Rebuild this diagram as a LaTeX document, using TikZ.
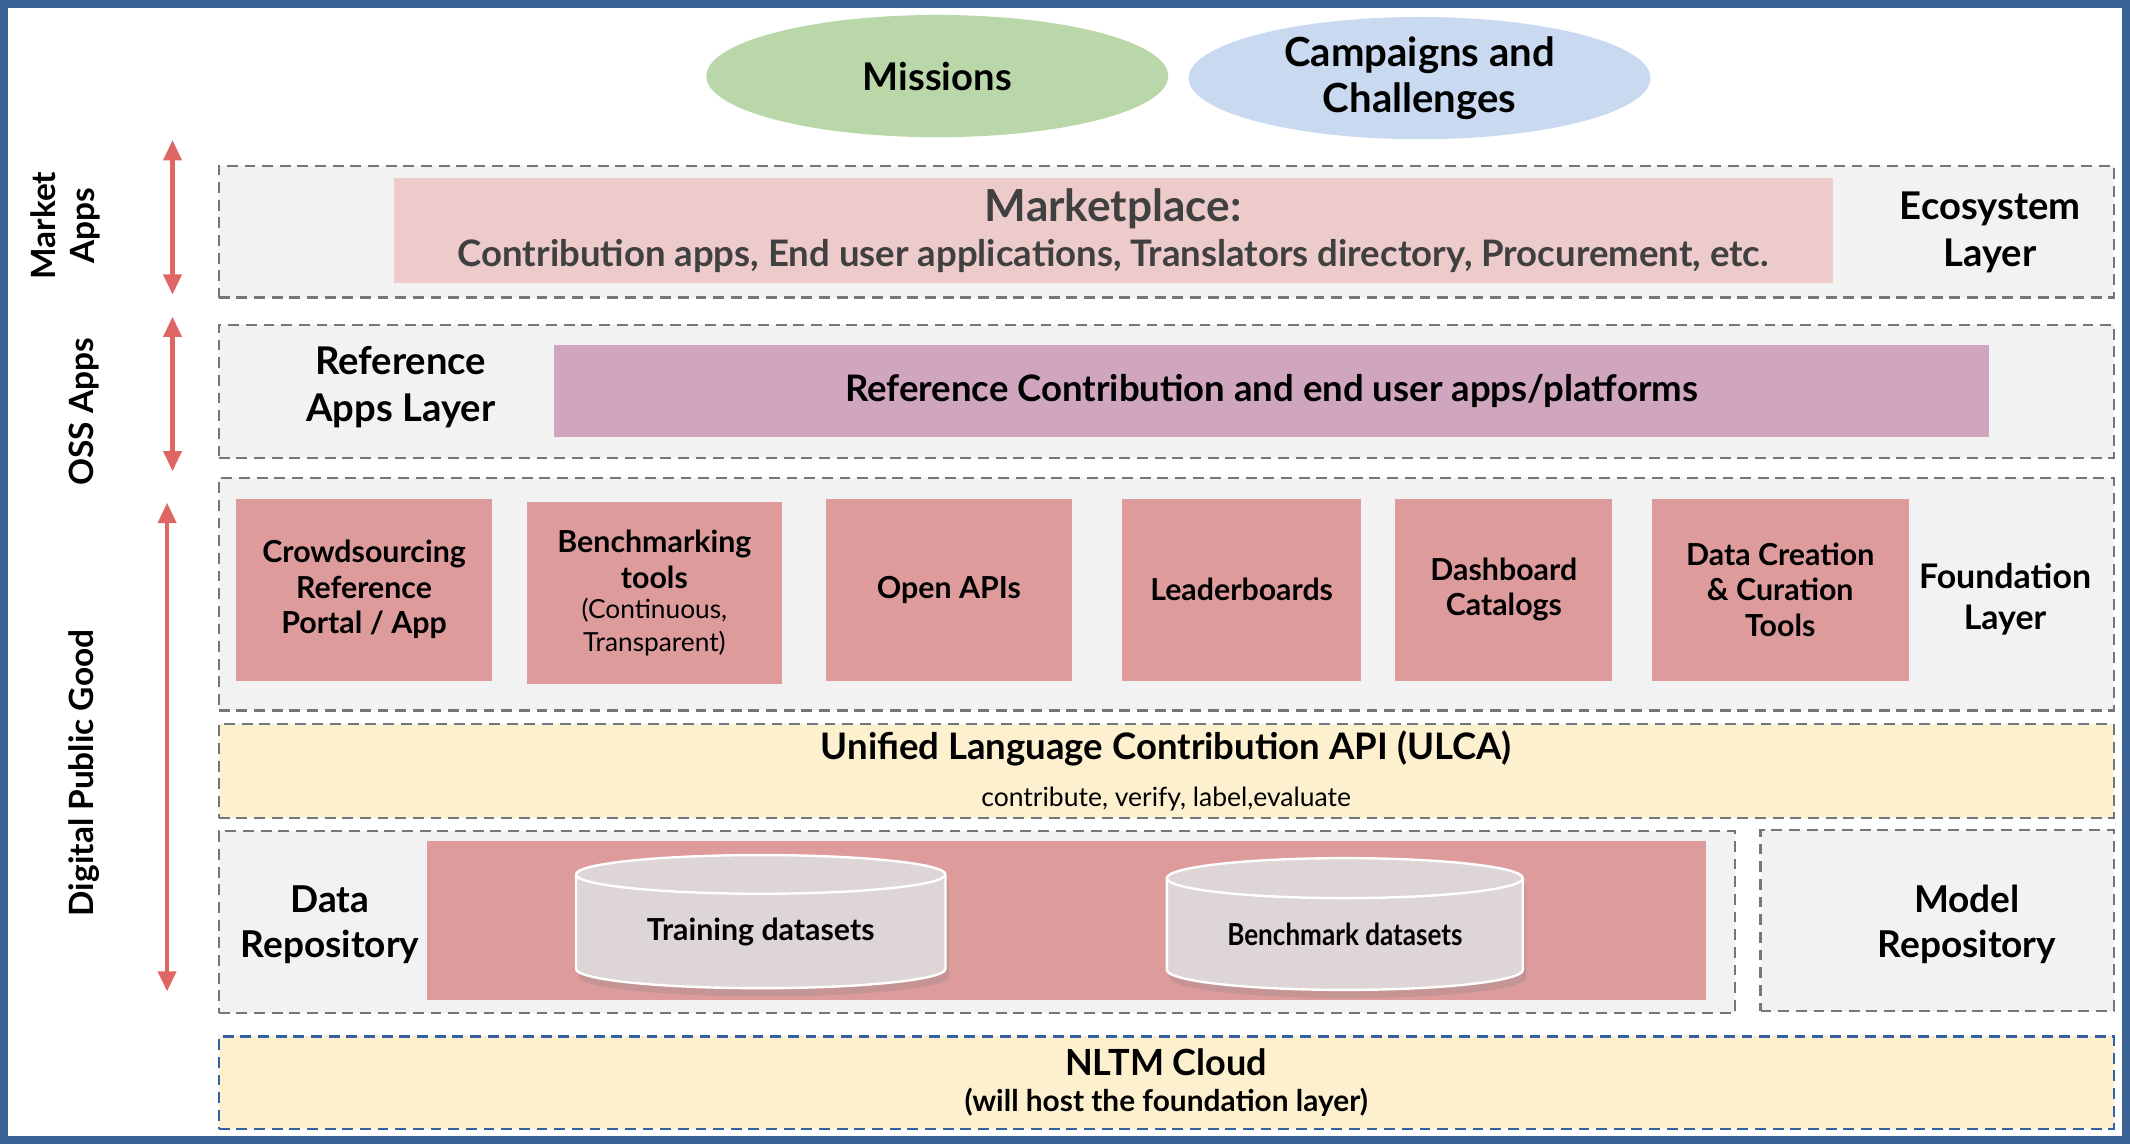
\documentclass[tikz,border=0pt]{standalone}
\usepackage{fontspec}
\setmainfont{Lato}
\usepackage{xcolor}
\usetikzlibrary{arrows.meta, positioning, shapes.geometric, shadows}

\definecolor{framebl}{RGB}{58,98,148}
\definecolor{dashgray}{RGB}{112,120,126}
\definecolor{dashbl}{RGB}{52,98,160}
\definecolor{panel}{RGB}{242,242,242}
\definecolor{tilered}{RGB}{221,155,155}
\definecolor{mktpink}{RGB}{237,203,203}
\definecolor{refpurple}{RGB}{207,166,189}
\definecolor{apiyellow}{RGB}{252,240,207}
\definecolor{misgreen}{RGB}{185,215,168}
\definecolor{campblue}{RGB}{201,218,240}
\definecolor{arrred}{RGB}{224,102,102}
\definecolor{cylgray}{RGB}{222,214,214}
\definecolor{mkttext}{RGB}{64,64,64}

\begin{document}
\begin{tikzpicture}[
  x=0.2mm, y=-0.2mm,
  every node/.style={font=\bfseries, inner sep=0pt},
  big/.style={font=\fontsize{16}{19.5}\selectfont\bfseries, align=center},
  repo/.style={font=\fontsize{15.5}{19}\selectfont\bfseries, align=center},
  side/.style={font=\fontsize{14}{16.5}\selectfont\bfseries, align=center, rotate=90},
  layer/.style={draw=dashgray, dashed, dash pattern=on 1.6mm off 1mm, line width=0.9pt, fill=panel},
  tile/.style={fill=tilered, minimum width=37.6mm, minimum height=26.8mm, align=center,
    font=\fontsize{12.7}{14.8}\selectfont\bfseries},
  db/.style={cylinder, shape border rotate=90, aspect=0.17, draw=white, line width=1pt, fill=cylgray,
    font=\fontsize{12.7}{15}\selectfont\bfseries,
    drop shadow={shadow xshift=0.5mm, shadow yshift=-1.2mm, opacity=0.25}},
  goal/.style={ellipse, big},
  arr/.style={{Triangle[length=3mm, width=2.6mm]}-{Triangle[length=3mm, width=2.6mm]}, draw=arrred, line width=0.7mm}
]
\useasboundingbox (0,0) rectangle (1568,842);
\draw[framebl, line width=1.2mm] (3,3) rectangle (1565,839);

% Goals on top
\node[goal, fill=misgreen, minimum width=68mm, minimum height=18mm] (missions) at (690,56) {Missions};
\node[goal, fill=campblue, minimum width=68mm, minimum height=18mm, font=\fontsize{16.8}{19.5}\selectfont\bfseries]
  (campaigns) at (1045,57.5) {Campaigns and\\Challenges};

% Ecosystem layer
\node[layer, minimum width=279mm, minimum height=19.4mm] (eco) at (858.5,170.5) {};
\node[fill=mktpink, minimum width=211.8mm, minimum height=15.4mm, align=center, text=mkttext] (market) at (819.5,169.5)
  {\fontsize{18.5}{21}\selectfont Marketplace:\\[1.2mm]
   \fontsize{15.3}{18}\selectfont Contribution apps, End user applications, Translators directory, Procurement, etc.};
\node[big] (ecolbl) at (1465,171) {Ecosystem\\Layer};

% Reference apps layer
\node[layer, minimum width=279mm, minimum height=19.6mm] (ref) at (858.5,288) {};
\node[big] (reflbl) at (295,285) {Reference\\Apps Layer};
\node[fill=refpurple, minimum width=211.2mm, minimum height=13.6mm, font=\fontsize{15.3}{18}\selectfont\bfseries]
  (refapps) at (936,288) {Reference Contribution and end user apps/platforms};

% Foundation layer
\node[layer, minimum width=279mm, minimum height=34.2mm] (found) at (858.5,437.5) {};
\node[tile] (crowd) at (268,434) {Crowdsourcing\\Reference\\Portal / App};
\node[tile, right=5mm of crowd, yshift=-0.5mm] (bench)
  {Benchmarking\\tools\\[-0.7mm]{\mdseries\fontsize{11}{13}\selectfont (Continuous,}\\[-0.4mm]{\mdseries\fontsize{11}{13}\selectfont Transparent)}};
\node[tile, minimum width=36.2mm] (apis) at (698.5,434) {Open APIs};
\node[tile, minimum width=35.2mm] (leader) at (914,434) {Leaderboards};
\node[tile, minimum width=32mm] (dash) at (1107,434) {Dashboard\\Catalogs};
\node[tile, minimum width=37.8mm] (curate) at (1310.5,434) {Data Creation\\\& Curation\\Tools};
\node[font=\fontsize{14.2}{17}\selectfont\bfseries, align=center] (foundlbl) at (1476,441) {Foundation\\Layer};

% ULCA
\node[layer, fill=apiyellow, minimum width=279mm, minimum height=13.8mm, align=center] (ulca) at (858.5,567.5)
  {\fontsize{15.3}{18}\selectfont Unified Language Contribution API (ULCA)\\[2.6mm]
   \mdseries\fontsize{11.1}{13}\selectfont contribute, verify, label,evaluate};

% Repositories
\node[layer, minimum width=223.2mm, minimum height=26.8mm] (datarepo) at (719,679) {};
\node[repo] (datalbl) at (243,680.5) {Data\\Repository};
\node[fill=tilered, minimum width=188.4mm, minimum height=23.4mm] (datasets) at (785,677.5) {};
\node[db, minimum width=54.4mm, minimum height=19.6mm] (train) at (560,686) {Training datasets};
\node[db, minimum width=52.4mm, minimum height=19.4mm] (benchdb) at (990,688) {\scalebox{0.86}[1]{Benchmark datasets}};
\node[layer, minimum width=52mm, minimum height=26.6mm] (model) at (1426,677.5) {};
\node[repo] (modellbl) at (1448,680.5) {Model\\Repository};

% NLTM cloud
\node[layer, draw=dashbl, fill=apiyellow, minimum width=279mm, minimum height=13.6mm, align=center] (cloud) at (858.5,797)
  {\fontsize{15.1}{18}\selectfont NLTM Cloud\\[1.2mm]
   \fontsize{12.5}{14}\selectfont (will host the foundation layer)};

% Side labels and arrows
\node[side] (mktapps) at (48,166) {Market\\Apps};
\node[side] (ossapps) at (62,303) {OSS Apps};
\node[side] (dpg) at (62,569) {Digital Public Good};
\coordinate (mkt top) at (127,103);
\coordinate (mkt bot) at (127,217);
\coordinate (oss top) at (127,233);
\coordinate (oss bot) at (127,347);
\coordinate (dpg top) at (123,370);
\coordinate (dpg bot) at (123,730);
\draw[arr] (mkt top) -- (mkt bot);
\draw[arr] (oss top) -- (oss bot);
\draw[arr] (dpg top) -- (dpg bot);

\end{tikzpicture}
\end{document}
